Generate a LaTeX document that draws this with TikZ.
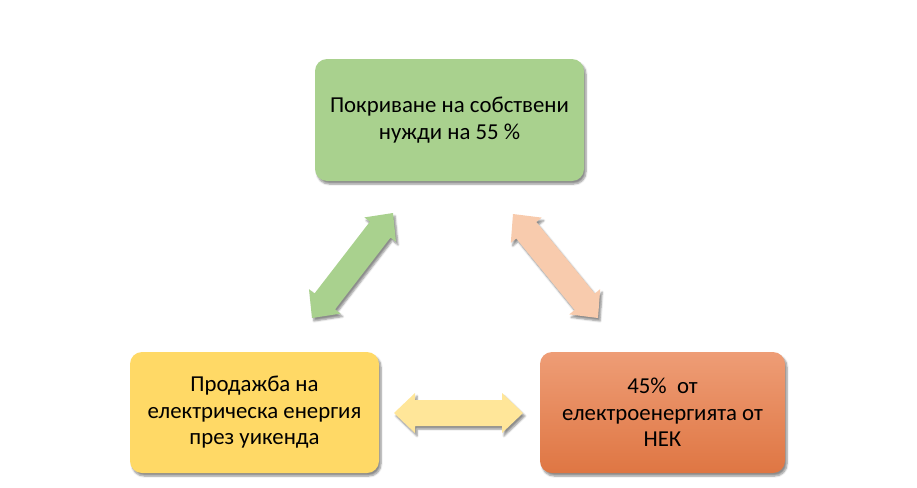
\documentclass[tikz,border=0pt]{standalone}
\usepackage{fontspec}
\setmainfont{Carlito}
\usetikzlibrary{calc,shadows.blur}
\definecolor{boxgreen}{HTML}{A9D18E}
\definecolor{boxyellow}{HTML}{FFD966}
\definecolor{orangetop}{HTML}{EE9D76}
\definecolor{orangebot}{HTML}{DF7643}
\definecolor{arrowpeach}{HTML}{F8CBAD}
\definecolor{arrowyellow}{HTML}{FFE699}
\newcommand{\blockarrow}[3]{%
\fill[#3,arrowshadow] (#1)
 -- ($(#1)!21pt!(#2)!20pt!90:(#2)$)
 -- ($(#1)!21pt!(#2)!13pt!90:(#2)$)
 -- ($(#2)!21pt!(#1)!13pt!-90:(#1)$)
 -- ($(#2)!21pt!(#1)!20pt!-90:(#1)$)
 -- (#2)
 -- ($(#2)!21pt!(#1)!20pt!90:(#1)$)
 -- ($(#2)!21pt!(#1)!13pt!90:(#1)$)
 -- ($(#1)!21pt!(#2)!13pt!-90:(#2)$)
 -- ($(#1)!21pt!(#2)!20pt!-90:(#2)$)
 -- cycle;}
\begin{document}
\begin{tikzpicture}[x=1pt,y=-1pt,
  box/.style={rounded corners=12pt,align=center,font=\fontsize{22.8}{26.5}\selectfont,
    blur shadow={shadow xshift=2pt,shadow yshift=-3pt,shadow blur steps=6,shadow opacity=45}},
  arrowshadow/.style={blur shadow={shadow xshift=2pt,shadow yshift=-3pt,shadow blur steps=5,shadow opacity=45}}]
\useasboundingbox (0,0) rectangle (917,487);
\node[box,fill=boxgreen,minimum width=269pt,minimum height=122pt] (needs) at (449.5,120)
  {Покриване на собствени\\нужди на 55 \%};
\node[box,fill=boxyellow,minimum width=249pt,minimum height=121pt] (sale) at (254.5,412.5)
  {Продажба на\\електрическа енергия\\през уикенда};
\node[box,top color=orangetop,bottom color=orangebot,minimum width=245pt,minimum height=121pt] (nek) at (662.5,412.5)
  {45\%\ \ от\\електроенергията от\\НЕК};
\coordinate (gl) at (312,318);
\coordinate (gu) at (393,213);
\coordinate (pu) at (513,214);
\coordinate (pl) at (598,318);
\coordinate (yl) at (394,413);
\coordinate (yr) at (523,413);
\blockarrow{gl}{gu}{boxgreen}
\blockarrow{pu}{pl}{arrowpeach}
\blockarrow{yl}{yr}{arrowyellow}
\end{tikzpicture}
\end{document}
